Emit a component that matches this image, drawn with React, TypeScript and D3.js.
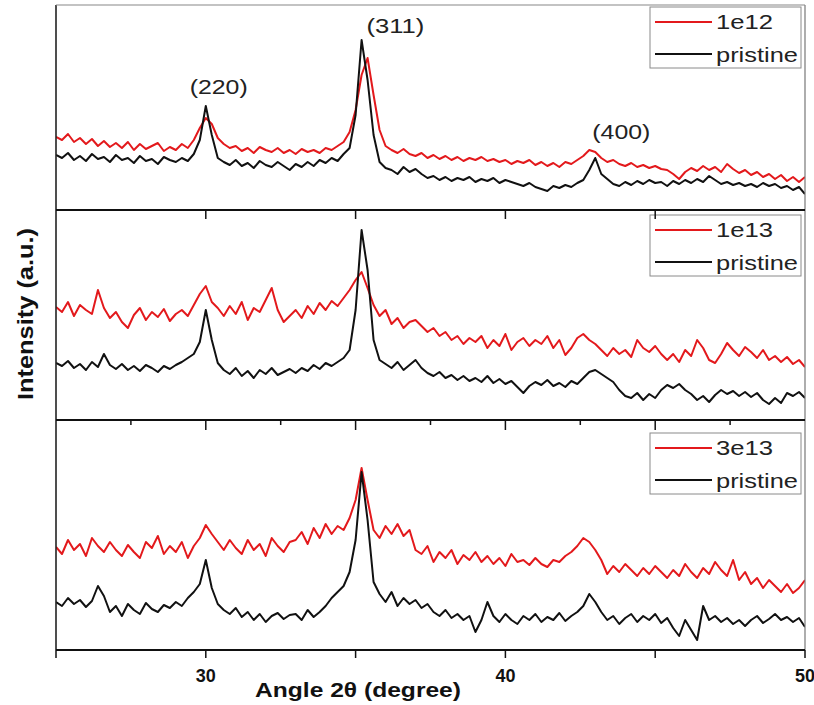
import React from 'react';
import * as d3 from 'd3';

// ---------- data (heights in a.u., sampled every 0.2° from 25° to 50°) ----------
const angleStart = 25;
const angleStep = 0.2;

const topPristine = [
  55, 52, 57, 50, 54, 49, 56, 51, 53, 48,
  55, 50, 52, 47, 54, 49, 51, 46, 53, 50,
  48, 52, 49, 56, 70, 104, 75, 52, 48, 45,
  50, 44, 47, 42, 49, 45, 43, 48, 44, 40,
  46, 43, 48, 44, 50, 47, 52, 49, 56, 62,
  95, 170, 130, 75, 48, 42, 40, 36, 43, 38,
  41, 36, 32, 34, 30, 33, 29, 32, 30, 33,
  28, 31, 29, 32, 27, 30, 28, 26, 24, 27,
  23, 21, 19, 24, 22, 25, 23, 27, 30, 40,
  52, 36, 31, 26, 24, 28, 25, 29, 26, 30,
  27, 28, 24, 29, 26, 30, 27, 31, 28, 34,
  30, 26, 28, 25, 27, 24, 26, 23, 27, 24,
  26, 22, 24, 20, 23, 16,
];
const top1e12 = [
  73, 70, 76, 68, 72, 66, 71, 64, 69, 63,
  67, 62, 68, 60, 66, 61, 64, 67, 59, 63,
  60, 66, 62, 70, 82, 92, 86, 72, 66, 62,
  64, 59, 62, 57, 63, 60, 58, 62, 57, 60,
  56, 61, 58, 60, 57, 62, 60, 64, 68, 78,
  100, 135, 152, 115, 80, 64, 60, 57, 61, 56,
  54, 57, 52, 55, 51, 54, 50, 53, 49, 52,
  50, 53, 49, 51, 48, 50, 46, 49, 47, 50,
  45, 48, 44, 47, 43, 48, 46, 50, 54, 60,
  58, 52, 48, 50, 46, 44, 47, 43, 45, 42,
  44, 41, 40, 36, 31, 38, 42, 39, 44, 40,
  43, 38, 46, 41, 37, 40, 35, 38, 33, 36,
  31, 35, 29, 33, 28, 33,
];
const midPristine = [
  57, 54, 59, 52, 56, 50, 58, 53, 66, 55,
  51, 56, 50, 54, 49, 55, 52, 48, 54, 51,
  55, 58, 62, 66, 78, 110, 80, 57, 50, 46,
  52, 44, 49, 42, 50, 46, 52, 45, 48, 51,
  47, 52, 49, 55, 51, 57, 54, 58, 62, 70,
  110, 190, 150, 80, 60, 56, 52, 58, 50, 55,
  60, 52, 47, 44, 48, 42, 45, 40, 44, 39,
  42, 38, 44, 37, 41, 36, 39, 33, 27, 34,
  38, 35, 40, 34, 37, 33, 39, 36, 42, 48,
  50, 46, 42, 38, 30, 24, 22, 27, 20, 26,
  22, 30, 35, 32, 36, 30, 26, 20, 24, 18,
  25, 30, 26, 29, 24, 28, 23, 27, 20, 16,
  22, 17, 27, 24, 28, 22,
];
const mid1e13 = [
  113, 108, 118, 104, 115, 110, 106, 130, 112, 102,
  108, 98, 92, 105, 112, 100, 108, 103, 111, 99,
  106, 110, 104, 115, 126, 134, 118, 112, 104, 114,
  106, 118, 100, 112, 108, 120, 132, 110, 98, 104,
  110, 102, 114, 106, 117, 110, 119, 114, 122, 130,
  140, 148, 132, 115, 104, 110, 96, 102, 92, 98,
  100, 94, 88, 92, 84, 88, 80, 84, 76, 82,
  78, 84, 72, 80, 74, 86, 70, 78, 82, 74,
  80, 76, 84, 72, 80, 65, 72, 82, 86, 80,
  76, 70, 64, 72, 66, 70, 63, 80, 72, 68,
  74, 66, 60, 66, 58, 70, 64, 80, 72, 60,
  57, 66, 77, 70, 64, 73, 68, 62, 70, 60,
  64, 58, 63, 56, 60, 53,
];
const botPristine = [
  48, 44, 52, 46, 50, 43, 49, 64, 54, 38,
  44, 34, 46, 40, 36, 47, 41, 38, 45, 42,
  48, 44, 52, 58, 66, 90, 62, 46, 40, 36,
  42, 33, 38, 30, 36, 28, 34, 37, 31, 35,
  36, 30, 40, 33, 38, 44, 52, 58, 64, 78,
  110, 178, 130, 68, 56, 48, 58, 44, 52, 46,
  50, 42, 46, 38, 34, 40, 32, 36, 30, 34,
  18, 30, 48, 34, 28, 36, 30, 26, 34, 30,
  36, 28, 33, 30, 37, 29, 34, 38, 44, 56,
  48, 38, 30, 34, 26, 32, 36, 28, 34, 30,
  36, 27, 32, 22, 14, 30, 20, 10, 44, 30,
  34, 28, 32, 26, 30, 24, 30, 34, 27, 31,
  36, 30, 33, 28, 32, 23,
];
const bot3e13 = [
  103, 96, 110, 100, 106, 94, 112, 104, 98, 108,
  100, 94, 105, 98, 92, 108, 102, 114, 96, 104,
  98, 108, 92, 104, 112, 125, 116, 108, 100, 110,
  102, 96, 110, 100, 106, 94, 112, 104, 98, 108,
  110, 118, 106, 122, 112, 126, 116, 124, 120, 132,
  150, 182, 150, 120, 112, 124, 116, 126, 114, 120,
  100, 96, 104, 88, 98, 92, 100, 86, 95, 90,
  98, 88, 94, 86, 92, 84, 96, 88, 90, 85,
  92, 86, 83, 90, 88, 94, 98, 104, 112, 108,
  100, 90, 76, 84, 78, 86, 80, 74, 82, 76,
  84, 78, 72, 80, 74, 86, 78, 72, 82, 76,
  88, 80, 74, 90, 70, 78, 66, 72, 62, 70,
  64, 58, 66, 57, 62, 70,
];

const doseLabels = ['1e12', '1e13', '3e13'];
const pristineLabel = 'pristine';
const peakLabels = ['(220)', '(311)', '(400)'];
const peakLabelAngles = [30.43, 36.33, 43.87];
const peakLabelHeights = [116, 177, 71];

const xMajorTicks = [25, 30, 35, 40, 45, 50];
const xMinorTicks = [27.5, 32.5, 37.5, 42.5, 47.5];
const xTickLabels = [30, 40, 50];

const irradiated = [top1e12, mid1e13, bot3e13];
const pristine = [topPristine, midPristine, botPristine];

// ---------- layout ----------
const W = 814;
const H = 705;
const LEFT = 56;
const RIGHT = 805;
const panels = [
  { top: 5, bottom: 210, legendTop: 7 },
  { top: 210, bottom: 420, legendTop: 215 },
  { top: 420, bottom: 650, legendTop: 433 },
];
const RED = '#e3191c';
const BLACK = '#111';
const FONT = "Arial, 'Liberation Sans', Helvetica, sans-serif";

export default function App() {
  const x = d3.scaleLinear().domain([25, 50]).range([LEFT, RIGHT]);
  const clipId = (i: number) => `clip-${i}`;

  return (
    <svg
      width={W}
      height={H}
      style={{ position: 'absolute', left: 0, top: 0, background: '#fff' }}
      fontFamily={FONT}
    >
      <defs>
        {panels.map((p, i) => (
          <clipPath id={clipId(i)} key={i}>
            <rect x={LEFT} y={p.top} width={RIGHT - LEFT} height={p.bottom - p.top} />
          </clipPath>
        ))}
      </defs>

      {panels.map((p, i) => {
        const y = d3.scaleLinear().domain([0, p.bottom - p.top]).range([p.bottom, p.top]);
        const line = d3
          .line<number>()
          .x((_, k) => x(angleStart + k * angleStep))
          .y((v) => y(v));
        const lt = p.legendTop;
        return (
          <g key={i}>
            <g clipPath={`url(#${clipId(i)})`}>
              <path d={line(irradiated[i]) || ''} fill="none" stroke={RED} strokeWidth={2} strokeLinejoin="round" />
              <path d={line(pristine[i]) || ''} fill="none" stroke={BLACK} strokeWidth={2} strokeLinejoin="round" />
            </g>
            {/* frame */}
            <line x1={LEFT} x2={LEFT} y1={p.top} y2={p.bottom} stroke="#222" strokeWidth={1.6} />
            <line x1={RIGHT} x2={RIGHT} y1={p.top} y2={p.bottom} stroke="#777" strokeWidth={1.2} />
            {/* legend */}
            <rect x={650} y={lt} width={151} height={61} fill="#fff" stroke="#8a8a8a" strokeWidth={1} />
            <line x1={655} x2={712} y1={lt + 15} y2={lt + 15} stroke={RED} strokeWidth={2} />
            <line x1={655} x2={712} y1={lt + 47} y2={lt + 47} stroke={BLACK} strokeWidth={2} />
            <text x={716} y={lt + 22} fontSize={20} textLength={57} lengthAdjust="spacingAndGlyphs" fill="#222">
              {doseLabels[i]}
            </text>
            <text x={716} y={lt + 55} fontSize={20} textLength={82} lengthAdjust="spacingAndGlyphs" fill="#222">
              {pristineLabel}
            </text>
          </g>
        );
      })}

      {/* top border of first panel */}
      <line x1={LEFT} x2={RIGHT} y1={5} y2={5} stroke="#888" strokeWidth={1.2} />
      {/* horizontal axis lines */}
      {[210, 420, 650].map((yy) => (
        <line key={yy} x1={LEFT} x2={RIGHT} y1={yy} y2={yy} stroke="#111" strokeWidth={2} />
      ))}

      {/* ticks on y=210 (major only, inward to middle panel) */}
      {xMajorTicks.slice(1, -1).map((t) => (
        <line key={'a' + t} x1={x(t)} x2={x(t)} y1={210} y2={219} stroke="#111" strokeWidth={1.5} />
      ))}
      {/* ticks on y=420 */}
      {xMajorTicks.slice(1, -1).map((t) => (
        <line key={'b' + t} x1={x(t)} x2={x(t)} y1={420} y2={430} stroke="#111" strokeWidth={1.5} />
      ))}
      {xMinorTicks.map((t) => (
        <line key={'c' + t} x1={x(t)} x2={x(t)} y1={420} y2={425} stroke="#111" strokeWidth={1.5} />
      ))}
      {/* bottom axis ticks (outward) */}
      {xMajorTicks.map((t) => (
        <line key={'d' + t} x1={x(t)} x2={x(t)} y1={650} y2={658} stroke="#111" strokeWidth={1.5} />
      ))}
      {xTickLabels.map((t) => (
        <text key={'l' + t} x={x(t)} y={682} fontSize={18} fontWeight="bold" textAnchor="middle" fill="#111">
          {t}
        </text>
      ))}

      {/* peak annotations (top panel) */}
      {peakLabels.map((lab, k) => {
        const y0 = d3.scaleLinear().domain([0, 205]).range([210, 5]);
        return (
          <text
            key={lab}
            x={x(peakLabelAngles[k])}
            y={y0(peakLabelHeights[k])}
            fontSize={20}
            textAnchor="middle"
            textLength={58}
            lengthAdjust="spacingAndGlyphs"
            fill="#222"
          >
            {lab}
          </text>
        );
      })}

      {/* axis titles */}
      <text
        x={358}
        y={697}
        fontSize={21}
        fontWeight="bold"
        textAnchor="middle"
        textLength={206}
        lengthAdjust="spacingAndGlyphs"
        fill="#111"
      >
        Angle 2θ (degree)
      </text>
      <text
        transform="translate(33,314) rotate(-90)"
        fontSize={22}
        fontWeight="bold"
        textAnchor="middle"
        textLength={172}
        lengthAdjust="spacingAndGlyphs"
        fill="#111"
      >
        Intensity (a.u.)
      </text>
    </svg>
  );
}
